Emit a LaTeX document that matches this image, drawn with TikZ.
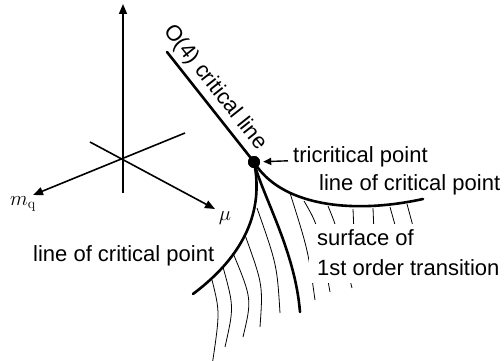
\documentclass[tikz,border=0pt]{standalone}
\usepackage[no-math]{fontspec}
\newfontfamily\lblfont{Liberation Sans}
\usetikzlibrary{arrows.meta,positioning}
\tikzset{
  axis/.style={line width=1.6pt, -{Triangle[length=10pt,width=8pt]}},
  crit/.style={line width=2.6pt, line cap=round},
  hatch/.style={line width=0.8pt},
  lbl/.style={font=\lblfont\fontsize{22}{26}\selectfont, inner sep=1pt},
  mlbl/.style={font=\fontsize{20}{24}\selectfont, inner sep=1pt},
  tcdot/.style={circle, fill, inner sep=0pt, minimum size=12pt},
  pointer/.style={line width=1.4pt, -{Triangle[length=8pt,width=7pt]}, shorten >=3pt},
}
\begin{document}
\begin{tikzpicture}[x=1pt,y=-1pt]
\useasboundingbox (0,0) rectangle (504,361);
% axes
\coordinate (o) at (123,158);
\coordinate (vbot) at (123,193);
\coordinate (vtop) at (123,4);
\coordinate (mub) at (90,142);
\coordinate (mut) at (215,209);
\coordinate (mqb) at (185,133);
\coordinate (mqt) at (33,195);
\draw[axis] (vbot) -- (vtop);
\draw[axis] (mub) -- (mut);
\draw[axis] (mqb) -- (mqt);
\node[mlbl] (mq) at (23,204) {$m_{\mathrm{q}}$};
\node[mlbl] (mu) at (225,218) {$\mu$};
% tricritical point and lines
\node[tcdot] (tri) at (254,162) {};
\coordinate (o4) at (167,52);
\coordinate (rend) at (423,199);
\coordinate (lend) at (193,294);
\coordinate (mend) at (300,312);
% hatching of the surface
\draw[hatch] (212,280) .. controls (220,312) .. (212,366);
\draw[hatch] (223,267) .. controls (234,307) .. (225,347);
\draw[hatch] (233,253) .. controls (252,299) .. (243,337);
\draw[hatch] (245,235) .. controls (263,285) .. (260,327);
\draw[hatch] (257,208) .. controls (277,265) .. (280,313);
\draw[hatch] (290,193) .. controls (308,250) .. (315,300);
\draw[hatch] (304,201) .. controls (318,225) .. (330,292);
\draw[hatch] (328,206) .. controls (337,228) .. (352,288);
\draw[hatch] (353,209) -- (354,232);
\draw[hatch] (373,208) -- (374,232);
\draw[hatch] (390,207) -- (397,232);
\draw[hatch] (407,204) -- (414,230);
\draw[crit] (o4) -- node[lbl, sloped, pos=0.41, above=4pt, inner sep=0pt]{O(4) critical line} (tri.center);
\draw[crit] (tri.center) .. controls (280,205) and (350,215) .. (rend);
\draw[crit] (tri.center) .. controls (264,210) and (245,255) .. (lend);
\draw[crit] (tri.center) .. controls (262,195) and (295,250) .. (mend);
\node[tcdot] at (tri) {};
% labels
\node[lbl, anchor=base west] (tclbl) at (292,162) {tricritical point};
\draw[pointer] ([xshift=-4pt,yshift=-4.5pt]tclbl.west) -- (tri);
\node[lbl, anchor=base west] (rlbl) at (318,190) {line of critical point};
\node[lbl, anchor=base west] (llbl) at (32,261) {line of critical point};
\node[lbl, anchor=base west, fill=white, inner xsep=6pt, text height=20pt, text depth=12pt] (sfc) at (311,245) {surface of};
\node[lbl, anchor=base west, fill=white, inner xsep=8pt, text depth=7pt] (fot) at (309,275) {1st order transition};
\end{tikzpicture}
\end{document}
